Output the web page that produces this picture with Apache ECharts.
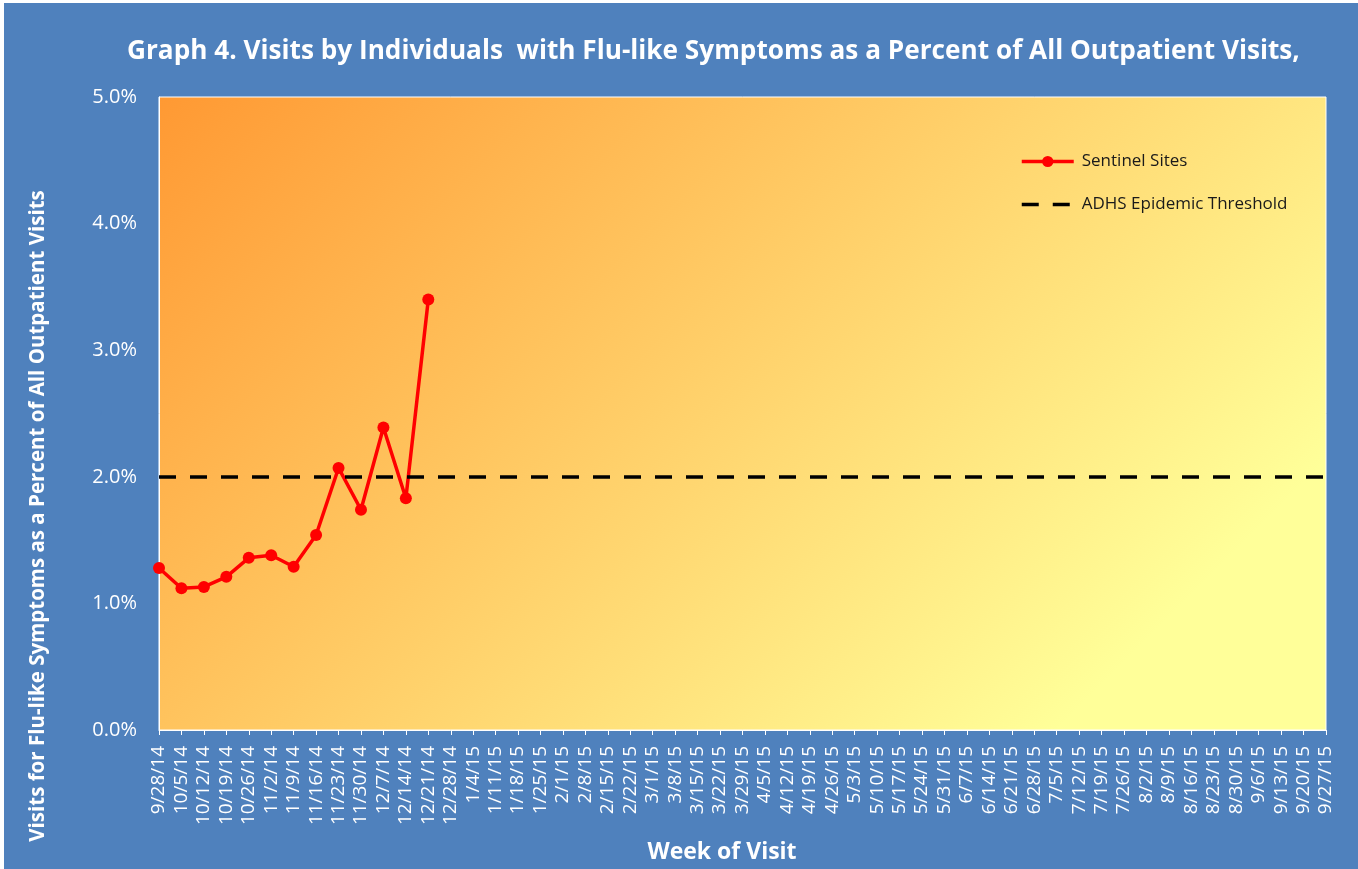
<!DOCTYPE html>
<html>
<head>
<meta charset="utf-8">
<script src="https://cdn.jsdelivr.net/npm/echarts@6/dist/echarts.min.js"></script>
<style>
html,body{margin:0;padding:0;background:#ffffff;width:1358px;height:869px;overflow:hidden;}
#chart{position:absolute;left:4px;top:3px;width:1354px;height:866px;}
</style>
</head>
<body>
<div id="chart"></div>
<script>
const TITLE = 'Graph 4. Visits by Individuals  with Flu-like Symptoms as a Percent of All Outpatient Visits,';
const Y_NAME = 'Visits for Flu-like Symptoms as a Percent of All Outpatient Visits';
const X_NAME = 'Week of Visit';
const SERIES_NAMES = ['Sentinel Sites', 'ADHS Epidemic Threshold'];

const weeks = ['9/28/14','10/5/14','10/12/14','10/19/14','10/26/14','11/2/14','11/9/14','11/16/14','11/23/14','11/30/14','12/7/14','12/14/14','12/21/14','12/28/14',
  '1/4/15','1/11/15','1/18/15','1/25/15','2/1/15','2/8/15','2/15/15','2/22/15','3/1/15','3/8/15','3/15/15','3/22/15','3/29/15',
  '4/5/15','4/12/15','4/19/15','4/26/15','5/3/15','5/10/15','5/17/15','5/24/15','5/31/15','6/7/15','6/14/15','6/21/15','6/28/15',
  '7/5/15','7/12/15','7/19/15','7/26/15','8/2/15','8/9/15','8/16/15','8/23/15','8/30/15','9/6/15','9/13/15','9/20/15','9/27/15'];

const sentinelSites = [1.28, 1.12, 1.13, 1.21, 1.36, 1.38, 1.29, 1.54, 2.07, 1.74, 2.39, 1.83, 3.40];
const epidemicThreshold = 2.0;

const yTicks = {min: 0, max: 5, interval: 1};

const chart = echarts.init(document.getElementById('chart'));
const FONT = 'Open Sans';
const DASH = [17, 14];

chart.setOption({
  backgroundColor: '#4F81BD',
  animation: false,
  title: {
    text: TITLE,
    left: 118,
    top: 31,
    textStyle: {color: '#ffffff', fontFamily: FONT, fontWeight: 'bold', fontSize: 26.2}
  },
  legend: {
    orient: 'vertical',
    left: 1011,
    top: 145,
    itemWidth: 52,
    itemHeight: 14,
    itemGap: 26,
    data: [
      {name: SERIES_NAMES[0], lineStyle: {width: 3.5}},
      {name: SERIES_NAMES[1], lineStyle: {width: 3.5, type: DASH}, itemStyle: {opacity: 0}}
    ],
    textStyle: {color: '#1a1a1a', fontFamily: FONT, fontSize: 17, padding: [0, 0, 0, 3]}
  },
  grid: {
    left: 155, top: 94, right: 32, bottom: 139,
    show: true,
    borderColor: '#ffffff',
    borderWidth: 1,
    backgroundColor: new echarts.graphic.LinearGradient(0, 0, 0.771, 1.422, [
      {offset: 0, color: '#FF9933'},
      {offset: 0.85, color: '#FFFF99'},
      {offset: 1, color: '#FFFF99'}
    ])
  },
  xAxis: {
    type: 'category',
    data: weeks,
    boundaryGap: false,
    axisLine: {show: true, lineStyle: {color: '#ffffff', width: 1}},
    axisTick: {show: true, length: 5, lineStyle: {color: '#ffffff'}},
    axisLabel: {interval: 0, rotate: 90, color: '#ffffff', fontFamily: FONT, fontSize: 19, margin: 16},
    splitLine: {show: false}
  },
  yAxis: {
    type: 'value',
    min: yTicks.min, max: yTicks.max, interval: yTicks.interval,
    axisLine: {show: true, lineStyle: {color: '#ffffff'}},
    axisTick: {show: false},
    splitLine: {show: false},
    axisLabel: {color: '#ffffff', fontFamily: FONT, fontSize: 20, margin: 22,
      formatter: v => v.toFixed(1) + '%'}
  },
  graphic: [
    {type: 'text', x: 34, y: 513, rotation: Math.PI / 2,
      style: {text: Y_NAME, fill: '#ffffff', font: 'bold 20.5px "Open Sans"', align: 'center', verticalAlign: 'middle'}},
    {type: 'text', x: 718, y: 849,
      style: {text: X_NAME, fill: '#ffffff', font: 'bold 23px "Open Sans"', align: 'center', verticalAlign: 'middle'}}
  ],
  series: [
    {
      name: SERIES_NAMES[0],
      type: 'line',
      data: sentinelSites,
      symbol: 'circle',
      symbolSize: 12,
      lineStyle: {color: '#FF0000', width: 3.5},
      itemStyle: {color: '#FF0000'},
      z: 3
    },
    {
      name: SERIES_NAMES[1],
      type: 'line',
      data: [],
      symbol: 'none',
      lineStyle: {color: '#000000', width: 3.5, type: DASH},
      itemStyle: {color: '#000000'},
      markLine: {
        silent: true,
        symbol: 'none',
        label: {show: false},
        lineStyle: {color: '#000000', width: 3.5, type: DASH},
        data: [{yAxis: epidemicThreshold}]
      },
      z: 2
    }
  ]
});
</script>
</body>
</html>
